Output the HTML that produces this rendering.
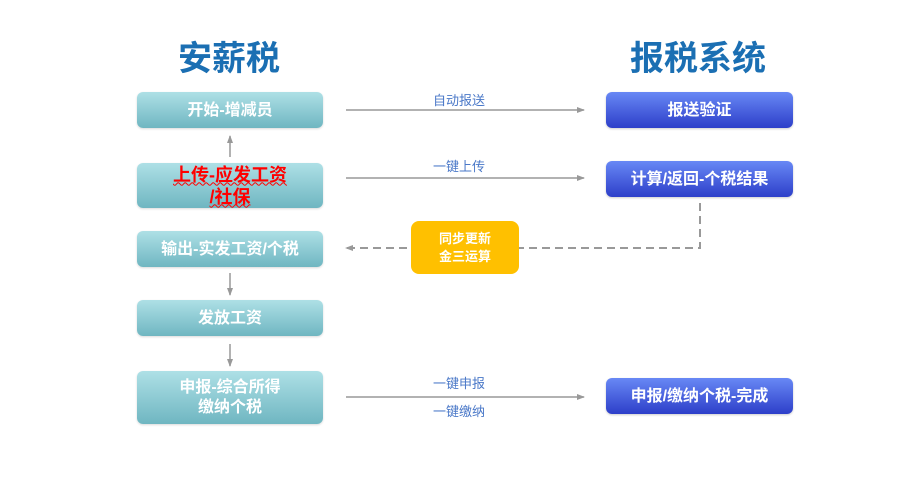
<!DOCTYPE html>
<html><head><meta charset="utf-8"><style>
body{margin:0;width:920px;height:485px;background:#fff;position:relative;overflow:hidden;font-family:"Liberation Sans","Noto Sans CJK SC",sans-serif}
.b{position:absolute;display:flex;align-items:center;justify-content:center;text-align:center;color:#fff;font-weight:bold;font-size:16px;line-height:20px;border-radius:6px}
.l{left:137px;width:186px;background:linear-gradient(#aee0e6,#6fb6c1);box-shadow:0 1px 2px rgba(0,0,0,.15)}
.r{left:606px;width:187px;background:linear-gradient(#6888f5,#2d3fc9);box-shadow:0 1px 2px rgba(0,0,0,.2)}
.t{position:absolute;font-size:34px;font-weight:bold;color:#1b6fb3}
.lab{position:absolute;font-size:13px;color:#4a78c8;width:120px;text-align:center}
</style></head><body>
<div class="t" style="left:178px;top:31px">安薪税</div>
<div class="t" style="left:630px;top:31px">报税系统</div>
<div class="b l" style="top:92px;height:36px;padding-top:2px;box-sizing:border-box">开始-增减员</div>
<div class="b l" style="top:163px;height:45px;color:#f00;font-size:18px;line-height:22px;text-decoration:underline wavy #f00;text-decoration-thickness:1px">上传-应发工资<br>/社保</div>
<div class="b l" style="top:231px;height:36px;padding-top:2px;box-sizing:border-box">输出-实发工资/个税</div>
<div class="b l" style="top:300px;height:36px;padding-top:2px;box-sizing:border-box">发放工资</div>
<div class="b l" style="top:371px;height:53px">申报-综合所得<br>缴纳个税</div>
<div class="b r" style="top:92px;height:36px;padding-top:2px;box-sizing:border-box">报送验证</div>
<div class="b r" style="top:161px;height:36px;padding-top:2px;box-sizing:border-box">计算/返回-个税结果</div>
<div class="b r" style="top:378px;height:36px;padding-top:2px;box-sizing:border-box">申报/缴纳个税-完成</div>
<div class="lab" style="left:399px;top:90px">自动报送</div>
<div class="lab" style="left:399px;top:156px">一键上传</div>
<div class="lab" style="left:399px;top:373px">一键申报</div>
<div class="lab" style="left:399px;top:401px">一键缴纳</div>
<svg width="920" height="485" style="position:absolute;left:0;top:0">
<defs><marker id="a" markerWidth="8" markerHeight="8" refX="7" refY="4" orient="auto" markerUnits="userSpaceOnUse"><path d="M0,1 L8,4 L0,7z" fill="#999"/></marker></defs>
<g stroke="#999" stroke-width="1.5" fill="none">
<line x1="346" y1="110" x2="584" y2="110" marker-end="url(#a)"/>
<line x1="346" y1="178" x2="584" y2="178" marker-end="url(#a)"/>
<line x1="346" y1="397" x2="584" y2="397" marker-end="url(#a)"/>
<line x1="230" y1="157" x2="230" y2="136" marker-end="url(#a)"/>
<line x1="230" y1="273" x2="230" y2="295" marker-end="url(#a)"/>
<line x1="230" y1="344" x2="230" y2="366" marker-end="url(#a)"/>
<polyline points="700,203 700,248 346,248" stroke-width="2" stroke-dasharray="8,5" marker-end="url(#a)"/>
</g>
</svg>
<div class="b" style="left:411px;top:221px;width:108px;height:53px;background:#ffc000;font-size:13px;line-height:18px;border-radius:8px">同步更新<br>金三运算</div>
</body></html>
